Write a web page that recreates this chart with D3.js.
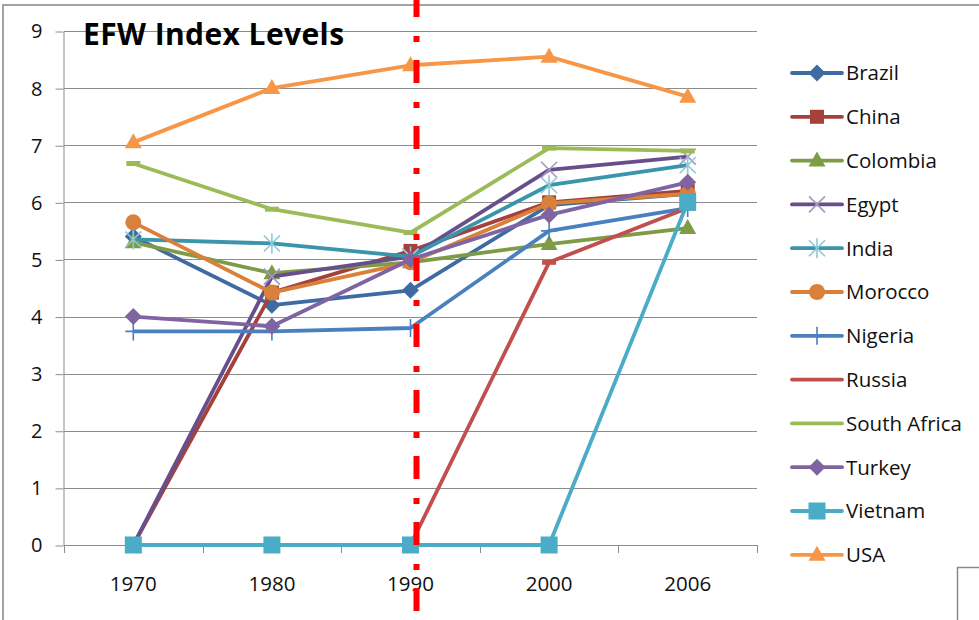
<!DOCTYPE html>
<html>
<head>
<meta charset="utf-8">
<script src="https://cdn.jsdelivr.net/npm/d3@7"></script>
<style>
  html, body { margin: 0; padding: 0; background: #fff; }
  svg { display: block; }
</style>
</head>
<body>
<svg id="chart" width="979" height="620"></svg>
<script>
// Survey years (category axis)
const years = ["1970", "1980", "1990", "2000", "2006"];
const yTicks = [0, 1, 2, 3, 4, 5, 6, 7, 8, 9];

// EFW index level per country, one value per survey year
const brazil      = [5.40, 4.20, 4.46, 5.95, 6.15];
const china       = [0.00, 4.42, 5.15, 6.00, 6.20];
const colombia    = [5.30, 4.76, 4.95, 5.27, 5.55];
const egypt       = [0.00, 4.70, 5.05, 6.57, 6.80];
const india       = [5.35, 5.28, 5.05, 6.30, 6.65];
const morocco     = [5.65, 4.42, 4.95, 5.98, 6.15];
const nigeria     = [3.74, 3.74, 3.80, 5.50, 5.90];
const russia      = [0.00, 0.00, 0.00, 4.95, 5.90];
const southAfrica = [6.68, 5.88, 5.47, 6.95, 6.90];
const turkey      = [4.00, 3.83, 5.00, 5.78, 6.35];
const vietnam     = [0.00, 0.00, 0.00, 0.00, 6.00];
const usa         = [7.05, 8.00, 8.40, 8.55, 7.85];

const seriesNames  = ["Brazil", "China", "Colombia", "Egypt", "India", "Morocco",
                      "Nigeria", "Russia", "South Africa", "Turkey", "Vietnam", "USA"];
const seriesValues = [brazil, china, colombia, egypt, india, morocco,
                      nigeria, russia, southAfrica, turkey, vietnam, usa];

// Styling per series: line colour, marker shape, marker colour
const styles = [
  { color: "#3f6ba3", marker: "diamond" },
  { color: "#a5403d", marker: "square" },
  { color: "#7e9b45", marker: "triangle" },
  { color: "#664f8a", marker: "x", mcolor: "#a698c2" },
  { color: "#3a94aa", marker: "asterisk", mcolor: "#8cc8d8" },
  { color: "#d9803a", marker: "circle" },
  { color: "#4a7fc0", marker: "plus" },
  { color: "#c0504d", marker: "dash" },
  { color: "#9bbb59", marker: "dash" },
  { color: "#8064a2", marker: "diamond" },
  { color: "#4aacc6", marker: "bigsquare" },
  { color: "#f79646", marker: "triangle" }
];

const svg = d3.select("#chart");
const font = "'Open Sans', Lato, sans-serif";

// Outer chart frame
svg.append("path")
  .attr("d", "M3,620 L3,5 L979,5")
  .attr("fill", "none").attr("stroke", "#a3a3a3").attr("stroke-width", 2);
svg.append("path")
  .attr("d", "M957.5,620 L957.5,567.5 L979,567.5")
  .attr("fill", "none").attr("stroke", "#8a8a8a").attr("stroke-width", 1.5);

const x = d3.scaleBand().domain(years).range([64, 757]).padding(0);
const y = d3.scaleLinear().domain([0, 9]).range([545, 31]);
const cx = d => x(d) + x.bandwidth() / 2;

// Horizontal gridlines
svg.append("g").selectAll("line").data(yTicks.filter(t => t > 0)).join("line")
  .attr("x1", 64).attr("x2", 757)
  .attr("y1", d => Math.round(y(d)) + 0.5).attr("y2", d => Math.round(y(d)) + 0.5)
  .attr("stroke", "#8c8c8c").attr("stroke-width", 1);

// Y axis
const yAxis = svg.append("g").attr("transform", "translate(63.5,0.5)")
  .call(d3.axisLeft(y).tickValues(yTicks).tickSize(8).tickPadding(13).tickSizeOuter(0));
yAxis.select(".domain").attr("stroke", "#8c8c8c");
yAxis.selectAll(".tick line").attr("stroke", "#8c8c8c");
yAxis.selectAll(".tick text").attr("font-family", font).attr("font-size", 20).attr("fill", "#111");

// X axis: labels centred on categories, tick marks on category boundaries
const xAxis = svg.append("g").attr("transform", "translate(0,545.5)")
  .call(d3.axisBottom(x).tickSize(0).tickPadding(31).tickSizeOuter(0));
xAxis.select(".domain").attr("stroke", "#8c8c8c").attr("d", "M64,0H757");
xAxis.selectAll(".tick text").attr("font-family", font).attr("font-size", 20.5).attr("fill", "#111");
svg.append("g").selectAll("line").data(d3.range(years.length + 1)).join("line")
  .attr("x1", i => Math.round(x.range()[0] + i * x.step()) + 0.5)
  .attr("x2", i => Math.round(x.range()[0] + i * x.step()) + 0.5)
  .attr("y1", 545).attr("y2", 553)
  .attr("stroke", "#8c8c8c").attr("stroke-width", 1);

// Marker drawing
function drawMarker(g, type, color, mcolor, px, py) {
  switch (type) {
    case "diamond":
      g.append("path").attr("d", `M${px},${py - 8.5}L${px + 8.5},${py}L${px},${py + 8.5}L${px - 8.5},${py}Z`)
        .attr("fill", color);
      break;
    case "square":
      g.append("rect").attr("x", px - 7).attr("y", py - 7).attr("width", 14).attr("height", 14).attr("fill", color);
      break;
    case "bigsquare":
      g.append("rect").attr("x", px - 8.5).attr("y", py - 8.5).attr("width", 17).attr("height", 17).attr("fill", color);
      break;
    case "triangle":
      g.append("path").attr("d", `M${px},${py - 9}L${px + 8.5},${py + 6}L${px - 8.5},${py + 6}Z`).attr("fill", color);
      break;
    case "circle":
      g.append("circle").attr("cx", px).attr("cy", py).attr("r", 8).attr("fill", color);
      break;
    case "x":
      g.append("path").attr("d", `M${px - 8},${py - 8}L${px + 8},${py + 8}M${px - 8},${py + 8}L${px + 8},${py - 8}`)
        .attr("stroke", mcolor).attr("stroke-width", 1.6).attr("fill", "none");
      break;
    case "asterisk":
      g.append("path").attr("d", `M${px - 8},${py - 8}L${px + 8},${py + 8}M${px - 8},${py + 8}L${px + 8},${py - 8}M${px},${py - 10}L${px},${py + 10}`)
        .attr("stroke", mcolor).attr("stroke-width", 1.6).attr("fill", "none");
      break;
    case "plus":
      g.append("path").attr("d", `M${px - 8},${py}L${px + 8},${py}M${px},${py - 9}L${px},${py + 9}`)
        .attr("stroke", color).attr("stroke-width", 1.6).attr("fill", "none");
      break;
    case "dash":
      g.append("rect").attr("x", px - 7).attr("y", py - 2.5).attr("width", 14).attr("height", 5).attr("fill", color);
      break;
  }
}

// Series lines and markers, later series on top
const line = d3.line().x((d, i) => cx(years[i])).y(d => y(d));
const plot = svg.append("g");
seriesValues.forEach((vals, k) => {
  const st = styles[k];
  const g = plot.append("g");
  g.append("path").attr("d", line(vals))
    .attr("fill", "none").attr("stroke", st.color).attr("stroke-width", 3.8)
    .attr("stroke-linejoin", "round");
  vals.forEach((v, i) => drawMarker(g, st.marker, st.color, st.mcolor, cx(years[i]), y(v)));
});

// Red dash-dot reference line near 1990
svg.append("line")
  .attr("x1", cx("1990") + 6).attr("x2", cx("1990") + 6)
  .attr("y1", -6).attr("y2", 620)
  .attr("stroke", "#ff0000").attr("stroke-width", 6)
  .attr("stroke-dasharray", "23,19,6,18");

// Title
svg.append("text").attr("x", 83).attr("y", 45)
  .attr("font-family", font).attr("font-weight", "bold").attr("font-size", 30)
  .attr("letter-spacing", 0.4)
  .attr("fill", "#000").text("EFW Index Levels");

// Legend
const legend = svg.append("g");
seriesNames.forEach((name, k) => {
  const ly = 73 + k * 43.8;
  const st = styles[k];
  const g = legend.append("g");
  g.append("line").attr("x1", 792).attr("x2", 842).attr("y1", ly).attr("y2", ly)
    .attr("stroke", st.color).attr("stroke-width", 3.8).attr("stroke-linecap", "round");
  if (st.marker !== "dash") drawMarker(g, st.marker, st.color, st.mcolor, 817, ly);
  g.append("text").attr("x", 846).attr("y", ly).attr("dy", "0.36em")
    .attr("font-family", font).attr("font-size", 20.5).attr("fill", "#111").text(name);
});
</script>
</body>
</html>
